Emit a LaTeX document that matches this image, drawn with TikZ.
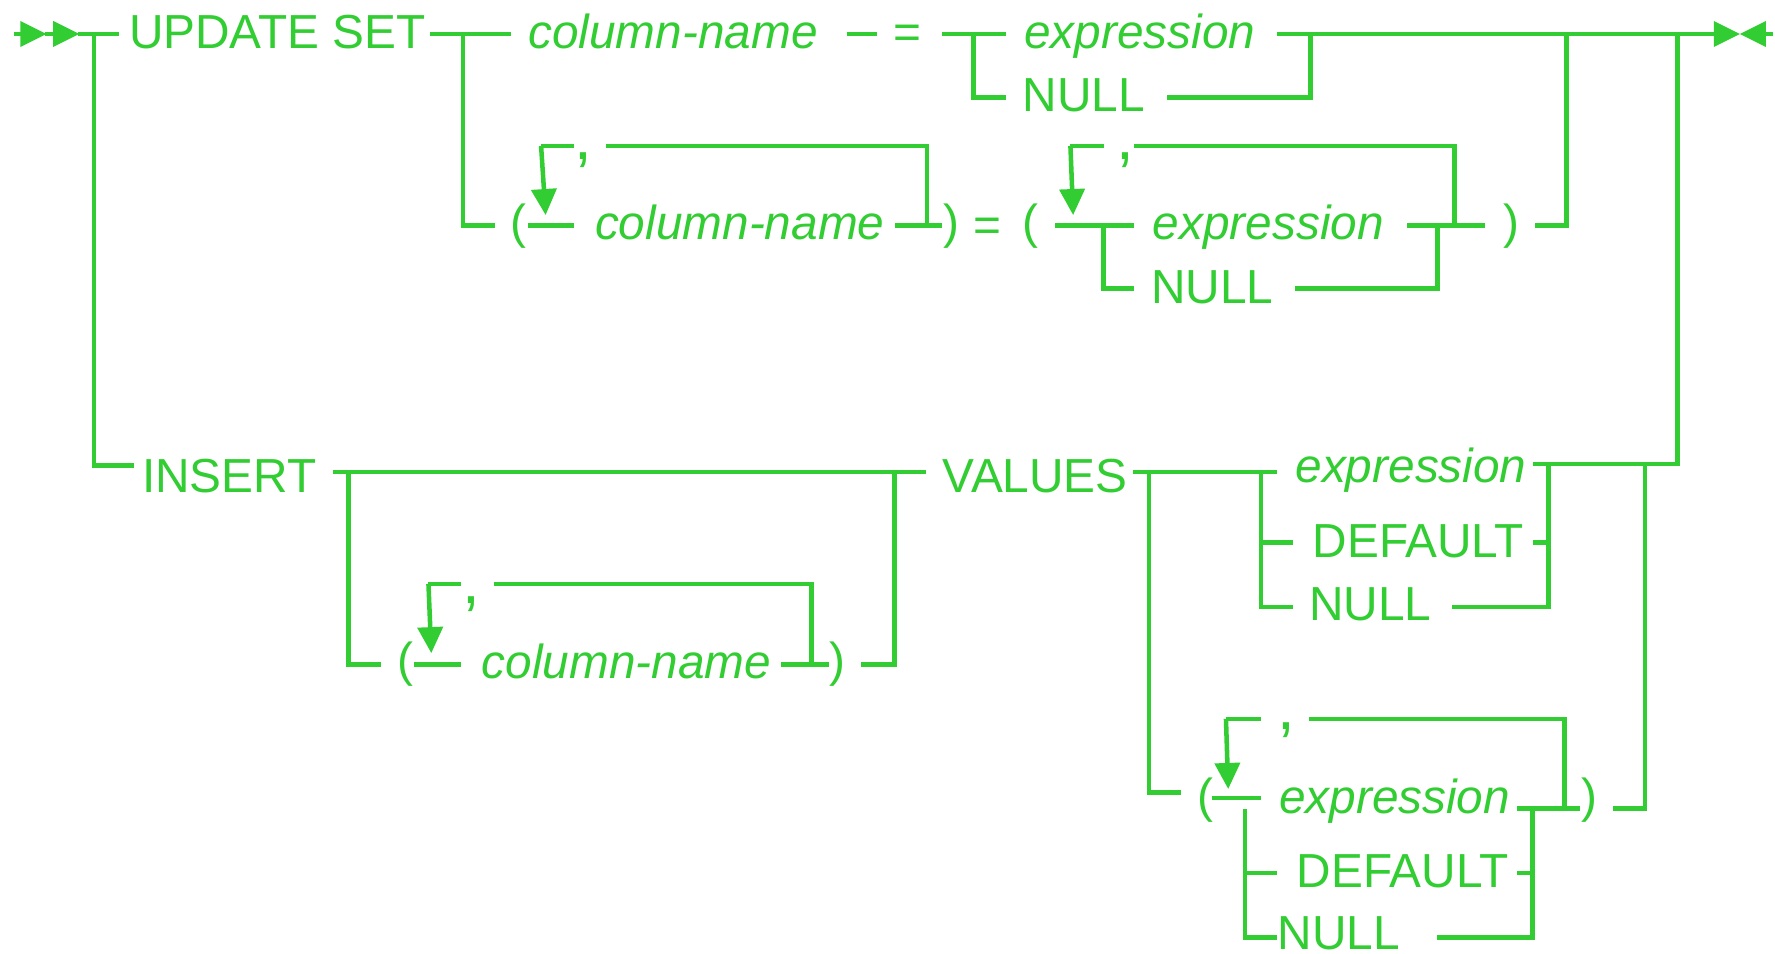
\documentclass[tikz,border=0pt]{standalone}
\usepackage{fontspec}
\setmainfont{Liberation Sans}
\usetikzlibrary{arrows.meta}
\definecolor{railgreen}{RGB}{50,205,50}
\begin{document}
\begin{tikzpicture}[x=0.01cm,y=-0.01cm,
  railline/.style={draw=railgreen,line width=0.04cm,line join=miter},
  backarrow/.style={railline,-{Triangle[length=0.23cm,width=0.22cm]}},
  headfill/.style={fill=railgreen},
  kw/.style={text=railgreen,inner sep=0pt,anchor=base,font=\fontsize{12}{14}\selectfont},
  ident/.style={kw,font=\fontsize{12}{14}\selectfont\itshape},
  sep/.style={kw,font=\fontsize{16}{18}\selectfont}]
\useasboundingbox (0,0) rectangle (1568,842);

% ---------- start and end markers ----------
\draw[railline] (12,30) -- (19,30) (40,30) -- (48,30);
\fill[headfill] (18,18.5) -- (41,30) -- (18,41.5) -- cycle;
\fill[headfill] (47,18.5) -- (70,30) -- (47,41.5) -- cycle;
\fill[headfill] (1514,18.5) -- (1537,30) -- (1514,41.5) -- cycle;
\fill[headfill] (1560,18.5) -- (1537,30) -- (1560,41.5) -- cycle;
\draw[railline] (1559,30) -- (1566,30);

% ---------- UPDATE branch ----------
\node[kw] (upd) at (245,43) {UPDATE SET};
\node[ident] (cn1) at (594.5,43) {column-name};
\node[kw] (eq1) at (802,43) {=};
\node[ident] (ex1) at (1007,43) {expression};
\node[kw] (nl1) at (957.5,98.6) {NULL};

\draw[railline] (69,30) -- (105,30);
\draw[railline] (83,30) -- (83,411) -- (118,411);
\draw[railline] (380,30) -- (451,30);
\draw[railline] (409,30) -- (409,199) -- (437,199);
\draw[railline] (748,30) -- (775,30);
\draw[railline] (832,30) -- (889,30);
\draw[railline] (860,30) -- (860,86) -- (889,86);
\draw[railline] (1128,30) -- (1515,30);
\draw[railline] (1031,86) -- (1157.5,86) -- (1157.5,30);
\draw[railline] (1356,199) -- (1384,199) -- (1384,30);
\draw[railline] (1354,410) -- (1482,410) -- (1482,30);

% column list = value list
\node[kw] (lp1) at (458,211) {(};
\node[sep] (cm1) at (515,140.5) {,};
\node[ident] (cn2) at (653.5,211.4) {column-name};
\node[kw] (rp1) at (840.5,211) {)};
\node[kw] (eq2) at (872,213) {=};
\node[kw] (lp2) at (910,211) {(};
\node[sep] (cm2) at (994,140.5) {,};
\node[ident] (ex2) at (1120.5,212) {expression};
\node[kw] (nl2) at (1071,268.5) {NULL};
\node[kw] (rp2) at (1335,211) {)};

\draw[railline] (466,199) -- (507,199);
\draw[railline] (507,129) -- (478,129);
\draw[backarrow] (478,129) -- (482,190);
\draw[railline] (535,129) -- (819,129) -- (819,199);
\draw[railline] (791,199) -- (832,199);

\draw[railline] (932,199) -- (1002,199);
\draw[railline] (975,199) -- (975,255) -- (1002,255);
\draw[railline] (975,129) -- (945.6,129);
\draw[backarrow] (945.6,129) -- (948,190);
\draw[railline] (1002,129) -- (1285,129) -- (1285,199);
\draw[railline] (1243,199) -- (1312,199);
\draw[railline] (1144,255) -- (1270,255) -- (1270,199);

% ---------- INSERT branch ----------
\node[kw] (ins) at (202.5,435) {INSERT};
\node[kw] (lp3) at (358.5,598) {(};
\node[sep] (cm3) at (416,533) {,};
\node[ident] (cn3) at (553.5,599) {column-name};
\node[kw] (rp3) at (739.5,598) {)};
\node[kw] (val) at (914.5,435) {VALUES};

\draw[railline] (294,417) -- (818,417);
\draw[railline] (308,417) -- (308,587) -- (337,587);
\draw[railline] (761,587) -- (790,587) -- (790,417);
\draw[railline] (366,587) -- (407,587);
\draw[railline] (407,516) -- (378.5,516);
\draw[backarrow] (378.5,516) -- (381,577);
\draw[railline] (436,516) -- (717,516) -- (717,587);
\draw[railline] (690,587) -- (732,587);

% single value
\node[ident] (ex3) at (1246.5,426.6) {expression};
\node[kw] (df1) at (1253,492.7) {DEFAULT};
\node[kw] (nl3) at (1210.5,548) {NULL};

\draw[railline] (1001,417) -- (1128,417);
\draw[railline] (1015,417) -- (1015,700) -- (1043,700);
\draw[railline] (1114,417) -- (1114,536) -- (1142,536);
\draw[railline] (1114,479) -- (1142,479);
\draw[railline] (1283,536) -- (1368,536) -- (1368,410);
\draw[railline] (1354,479) -- (1368,479);
\draw[railline] (1425,714) -- (1453,714) -- (1453,410);

% value list
\node[kw] (lp4) at (1065,718) {(};
\node[sep] (cm4) at (1136,644.5) {,};
\node[ident] (ex4) at (1232,719) {expression};
\node[kw] (rp4) at (1404,718) {)};
\node[kw] (df2) at (1239,784) {DEFAULT};
\node[kw] (nl4) at (1182.5,839) {NULL};

\draw[railline] (1071,705) -- (1114,705);
\draw[railline] (1114,635) -- (1083,635);
\draw[backarrow] (1083,635) -- (1085,697);
\draw[railline] (1156,635) -- (1382,635) -- (1382,714);
\draw[railline] (1340,714) -- (1396,714);
\draw[railline] (1100,715) -- (1100,828) -- (1128,828);
\draw[railline] (1100,771) -- (1128,771);
\draw[railline] (1269,828) -- (1354,828) -- (1354,714);
\draw[railline] (1340,771) -- (1354,771);
\end{tikzpicture}
\end{document}
